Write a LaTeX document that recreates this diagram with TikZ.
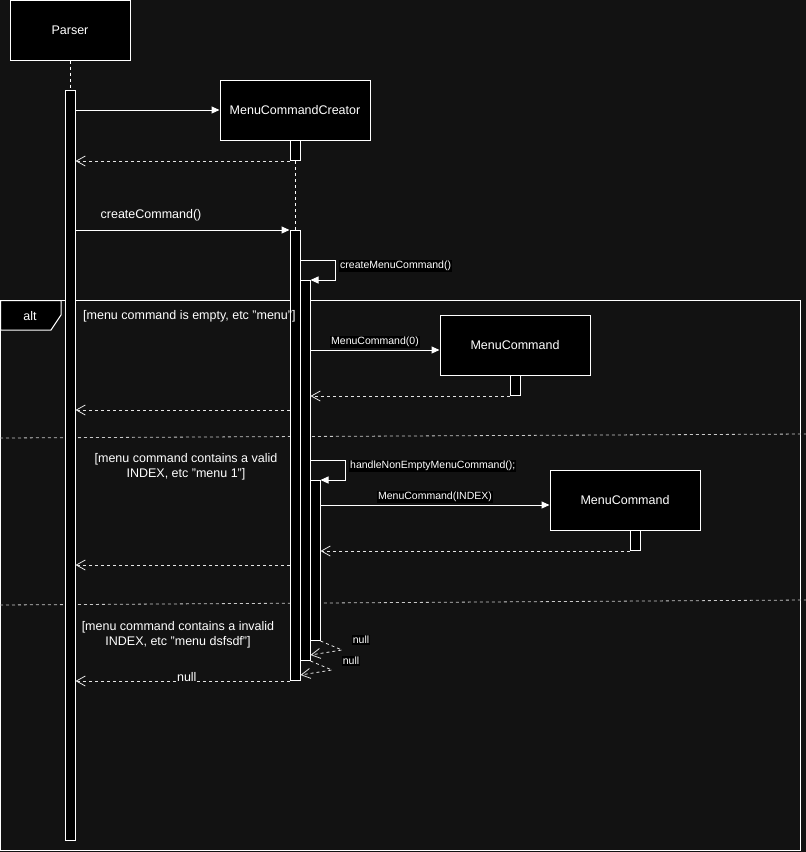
\documentclass[tikz,border=0pt]{standalone}
\usepackage{fontspec}
\setmainfont{Liberation Sans}
\usetikzlibrary{arrows.meta}
\definecolor{bgc}{HTML}{121212}
\definecolor{dashgray}{HTML}{C8C8C8}
\begin{document}
\begin{tikzpicture}[x=1pt,y=-1pt,
  every node/.style={text=white,font=\fontsize{12.5}{15}\selectfont},
  obj/.style={draw=white,fill=black,line width=1pt,minimum width=150pt,minimum height=60pt,inner sep=0pt},
  act/.style={draw=white,fill=black,line width=1pt,minimum width=10pt,inner sep=0pt,anchor=north},
  life/.style={draw=white,line width=0.8pt,dash pattern=on 3pt off 3pt},
  call/.style={draw=white,line width=1pt,-{Triangle[length=8pt,width=7pt]}},
  ret/.style={draw=white!90!black,line width=0.8pt,dash pattern=on 3pt off 3pt,-{Straight Barb[length=9pt,width=10pt,line width=0.8pt]}},
  lbl/.style={fill=black,inner sep=1pt,font=\fontsize{10.5}{12}\selectfont},
  guard/.style={align=center,inner sep=0pt},
  frame/.style={draw=white,line width=1pt},
  divider/.style={draw=dashgray,line width=0.8pt,dash pattern=on 3pt off 3pt}]

% canvas
\fill[bgc] (0,0) rectangle (806,852);
\useasboundingbox (0,0) rectangle (806,852);

% alt frame
\draw[frame] (0.5,300.5) rectangle (800.5,850.5);
\draw[frame,fill=black] (0.5,300.5) -- (61,300.5) -- (61,315) -- (51,330) -- (0.5,330) -- cycle;
\node (alt) at (30,316) {alt};
\draw[divider] (0,438) -- (806,434);
\draw[divider] (0,605) -- (806,600);

% Parser
\node[obj,minimum width=120pt] (parser) at (70,30) {Parser};
\node[act,minimum height=750pt] (pact) at (70,90) {};
\draw[life] (parser.south) -- (pact.north);

% MenuCommandCreator
\node[obj] (mcc) at (295,110) {MenuCommandCreator};
\draw[call] (pact.east |- mcc.west) -- (mcc.west);
\node[act,minimum height=20pt] (mcca1) at (295,140) {};
\draw[ret] (mcca1.south west) -- (pact.east |- mcca1.south);
\node[act,minimum height=450pt] (mcca2) at (295,230) {};
\draw[life] (mcca1.south) -- (mcca2.north);
\draw[call] (pact.east |- mcca2.north) -- (mcca2.north west);
\node (cc) at (151,215) {createCommand()};

% createMenuCommand() self call
\node[act,minimum height=380pt] (n1) at (305,280) {};
\coordinate (s1) at (335,260);
\draw[call] (mcca2.east |- s1) -- (s1) |- (n1.north east);
\node[lbl,anchor=west] (cmc) at (339,266) {createMenuCommand()};

% first branch
\node[guard,anchor=west] (g1) at (83,316) {[menu command is empty, etc "menu"]};
\node[obj] (mc1) at (515,345) {MenuCommand};
\node[act,minimum height=20pt] (mc1a) at (515,375) {};
\coordinate (y350) at (0,350);
\draw[call] (n1.east |- y350) -- node[lbl,above=2pt] (mc0lbl) {MenuCommand(0)} (mc1.west |- y350);
\draw[ret] (mc1a.south west) -- (n1.east |- mc1a.south);
\coordinate (y410) at (0,410);
\draw[ret] (mcca2.west |- y410) -- (pact.east |- y410);

% second branch
\node[guard] (g2) at (186,467) {[menu command contains a valid\\INDEX, etc "menu 1"]};
\node[act,minimum height=160pt] (n2) at (315,480) {};
\coordinate (s2) at (345,460);
\draw[call] (n1.east |- s2) -- (s2) |- (n2.north east);
\node[lbl,anchor=west] (hne) at (349,466) {handleNonEmptyMenuCommand();};
\node[obj] (mc2) at (625,500) {MenuCommand};
\node[act,minimum height=20pt] (mc2a) at (635,530) {};
\coordinate (y505) at (0,505);
\draw[call] (n2.east |- y505) -- node[lbl,above=2pt] (mcilbl) {MenuCommand(INDEX)} (mc2.west |- y505);
\draw[ret] (mc2a.south west) -- (n2.east |- mc2a.south);
\coordinate (y565) at (0,565);
\draw[ret] (mcca2.west |- y565) -- (pact.east |- y565);

% third branch
\node[guard] (g3) at (178,635) {[menu command contains a invalid\\INDEX, etc "menu dsfsdf"]};
\coordinate (b1) at (342,650);
\coordinate (y655) at (0,655);
\draw[ret] (n2.south east) -- (b1) -- (n1.east |- y655);
\node[lbl] (null1) at (361,640) {null};
\coordinate (b2) at (332,670);
\coordinate (y675) at (0,675);
\draw[ret] (n1.south east) -- (b2) -- (mcca2.east |- y675);
\node[lbl] (null2) at (351,661) {null};
\draw[ret] (mcca2.south west) -- node[pos=0.48,fill=bgc,inner sep=0.5pt,yshift=4pt] (null3) {null} (pact.east |- mcca2.south);
\end{tikzpicture}
\end{document}
